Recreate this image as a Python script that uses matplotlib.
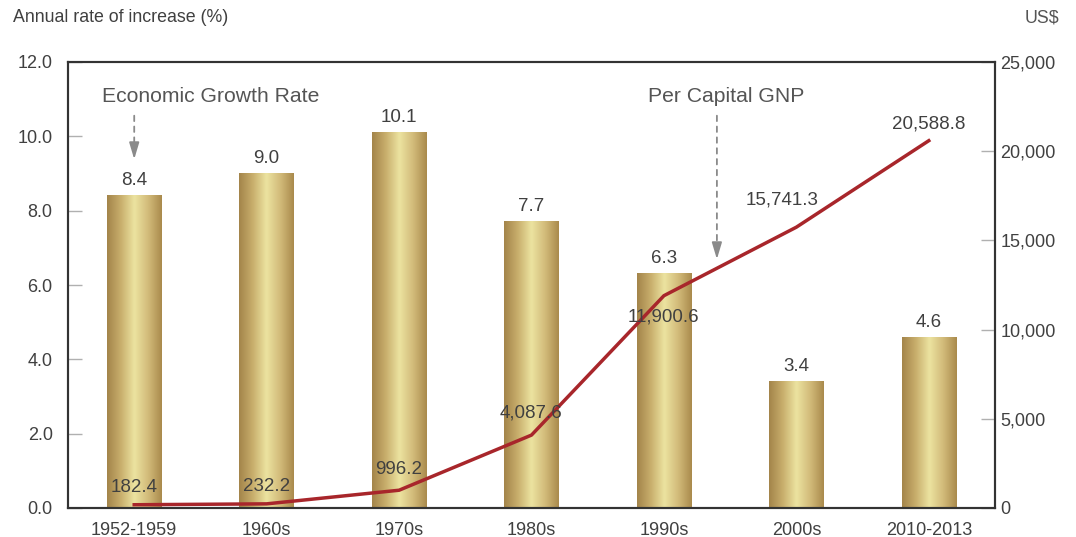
import numpy as np
import matplotlib
matplotlib.use("Agg")
import matplotlib.pyplot as plt
from matplotlib.colors import LinearSegmentedColormap
from matplotlib.ticker import FuncFormatter

# data
periods = ["1952-1959", "1960s", "1970s", "1980s", "1990s", "2000s", "2010-2013"]
growth_rate = [8.4, 9.0, 10.1, 7.7, 6.3, 3.4, 4.6]
gnp_per_capita = [182.4, 232.2, 996.2, 4087.6, 11900.6, 15741.3, 20588.8]
left_ticks = [0, 2, 4, 6, 8, 10, 12]
right_ticks = [0, 5000, 10000, 15000, 20000, 25000]

# (dx, dy) label offsets in pixels for line values
gnp_offsets = [(0, 17), (0, 17), (0, 21), (0, 22), (0, -21), (-14, 27), (0, 17)]

plt.rcParams["font.family"] = ["Liberation Sans", "DejaVu Sans"]
text_col = "#404040"
gray = "#8a8a8a"

fig = plt.figure(figsize=(10.76, 5.37), dpi=100)
ax = fig.add_axes([68 / 1076, 29 / 537, 927 / 1076, 446 / 537])
ax2 = ax.twinx()

x = np.arange(len(periods))
bars = ax.bar(x, growth_rate, width=0.41, color="none", zorder=2)

gold = LinearSegmentedColormap.from_list(
    "gold", ["#a3844a", "#c8ae6c", "#ece3a0", "#d2bb7a", "#a98a4c"])
grad = np.linspace(0, 1, 256).reshape(1, -1)
for b in bars:
    x0, w, h = b.get_x(), b.get_width(), b.get_height()
    ax.imshow(grad, extent=[x0, x0 + w, 0, h], aspect="auto", cmap=gold,
              interpolation="bicubic", zorder=2)

for xi, v in zip(x, growth_rate):
    ax.annotate(f"{v:.1f}", (xi, v), xytext=(0, 15), textcoords="offset pixels",
                ha="center", va="center", fontsize=13.5, color=text_col)

ax.set_xlim(-0.5, 6.5)
ax.set_ylim(0, 12)
ax.set_yticks(left_ticks)
ax.yaxis.set_major_formatter(FuncFormatter(lambda v, p: f"{v:.1f}"))
ax.set_xticks(x)
ax.set_xticklabels(periods)

ax2.plot(x, gnp_per_capita, color="#a8262b", lw=2.5, zorder=3)
ax2.set_ylim(0, 25000)
ax2.set_yticks(right_ticks)
ax2.yaxis.set_major_formatter(FuncFormatter(lambda v, p: f"{int(v):,}"))
for xi, v, (dx, dy) in zip(x, gnp_per_capita, gnp_offsets):
    ax2.annotate(f"{v:,.1f}", (xi, v), xytext=(dx, dy), textcoords="offset pixels",
                 ha="center", va="center", fontsize=13.5, color=text_col)

for a in (ax, ax2):
    for s in a.spines.values():
        s.set_color("#333333")
        s.set_linewidth(1.5)
    a.tick_params(axis="y", direction="in", length=10, width=1, color="#b0b0b0",
                  labelsize=13, labelcolor=text_col)
ax.tick_params(axis="x", length=0, labelsize=13, labelcolor=text_col, pad=10)
ax.tick_params(axis="y", pad=11)
ax2.tick_params(axis="y", pad=4)

# annotations with dashed arrows
ax.text(0.58, 11.06, "Economic Growth Rate", ha="center", va="center",
        fontsize=15.2, color="#555555")
ax.text(4.47, 11.06, "Per Capital GNP", ha="center", va="center",
        fontsize=15.2, color="#555555")
for ax_x, y_top, y_tip in [(0, 10.63, 9.31), (4.4, 10.63, 6.62)]:
    ax.annotate("", xy=(ax_x, y_tip + 0.25), xytext=(ax_x, y_top),
                arrowprops=dict(arrowstyle="-", color=gray, lw=1.3,
                                linestyle=(0, (3, 3))), zorder=5)
    ax.annotate("", xy=(ax_x, y_tip), xytext=(ax_x, y_tip + 0.45),
                arrowprops=dict(arrowstyle="-|>,head_length=1.0,head_width=0.3",
                                color=gray, lw=1.3), zorder=5)

fig.text(13 / 1076, 1 - 18 / 537, "Annual rate of increase (%)", ha="left", va="center",
         fontsize=12.8, color=text_col)
fig.text(1042 / 1076, 1 - 18 / 537, "US$", ha="center", va="center",
         fontsize=12.8, color="#555555")

fig.savefig("out.png", dpi=100)
